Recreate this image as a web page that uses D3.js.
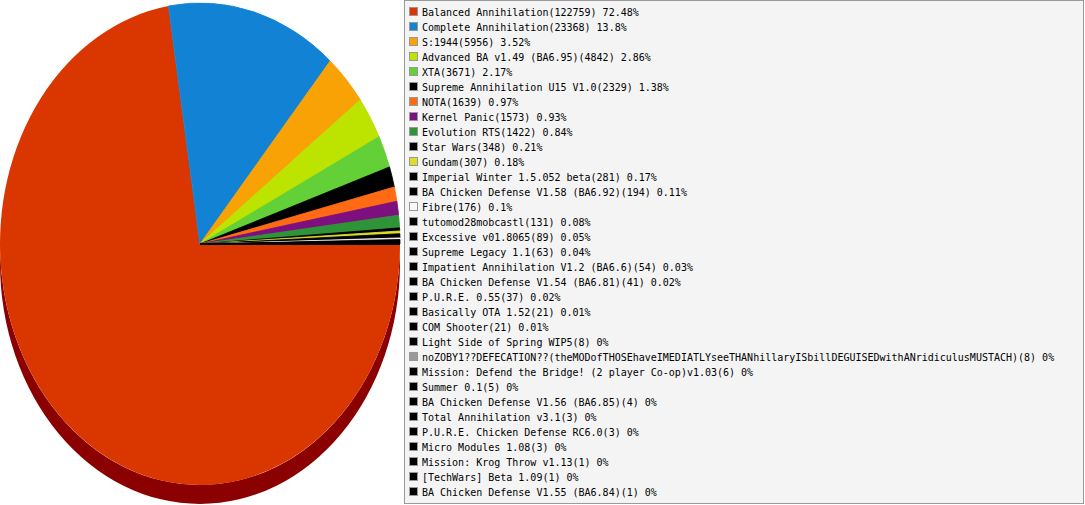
<!DOCTYPE html>
<html lang="en">

<head>
    <meta charset="UTF-8">
    <title>Mods</title>
    <style>
        body {
            margin: 0;
            background: #fff;
        }

        .legend text {
            font-family: "DejaVu Sans Mono", monospace;
            font-size: 10px;
            fill: #000;
        }
    </style>
</head>

<body>
    <script src="https://d3js.org/d3.v7.min.js"></script>
    <script>

        let names = [
            "Balanced Annihilation", "Complete Annihilation", "S:1944", "Advanced BA v1.49 (BA6.95)",
            "XTA", "Supreme Annihilation U15 V1.0", "NOTA", "Kernel Panic", "Evolution RTS", "Star Wars",
            "Gundam", "Imperial Winter 1.5.052 beta", "BA Chicken Defense V1.58 (BA6.92)", "Fibre",
            "tutomod28mobcastl", "Excessive v01.8065", "Supreme Legacy 1.1", "Impatient Annihilation V1.2 (BA6.6)",
            "BA Chicken Defense V1.54 (BA6.81)", "P.U.R.E. 0.55", "Basically OTA 1.52", "COM Shooter",
            "Light Side of Spring WIP5",
            "noZOBY1??DEFECATION??(theMODofTHOSEhaveIMEDIATLYseeTHANhillaryISbillDEGUISEDwithANridiculusMUSTACH)",
            "Mission: Defend the Bridge! (2 player Co-op)v1.03", "Summer 0.1", "BA Chicken Defense V1.56 (BA6.85)",
            "Total Annihilation v3.1", "P.U.R.E. Chicken Defense RC6.0", "Micro Modules 1.08",
            "Mission: Krog Throw v1.13", "[TechWars] Beta 1.09", "BA Chicken Defense V1.55 (BA6.84)"
        ];
        let counts = [
            122759, 23368, 5956, 4842, 3671, 2329, 1639, 1573, 1422, 348,
            307, 281, 194, 176, 131, 89, 63, 54, 41, 37, 21, 21,
            8, 8, 6, 5, 4, 3, 3, 3, 1, 1, 1
        ];
        let pcts = [
            "72.48%", "13.8%", "3.52%", "2.86%", "2.17%", "1.38%", "0.97%", "0.93%", "0.84%", "0.21%",
            "0.18%", "0.17%", "0.11%", "0.1%", "0.08%", "0.05%", "0.04%", "0.03%", "0.02%", "0.02%",
            "0.01%", "0.01%", "0%", "0%", "0%", "0%", "0%", "0%", "0%", "0%", "0%", "0%", "0%"
        ];
        let colors = [
            "#da3600", "#1283d4", "#f8a205", "#bde300", "#62d036", "#000000", "#ff6a12", "#7d0f7f",
            "#2f9337", "#000000", "#dcdc2a", "#000000", "#000000", "#f8f8f8", "#000000", "#000000",
            "#000000", "#000000", "#000000", "#000000", "#000000", "#000000", "#000000", "#999999",
            "#000000", "#000000", "#000000", "#000000", "#000000", "#000000", "#000000", "#000000", "#000000"
        ];

        let W = 1085, H = 505;
        let pieC = { x: 200, y: 244, rx: 200, ry: 241, depth: 19 };

        let s = d3.select('body').append('svg')
            .attr('width', W)
            .attr('height', H);

        // 1. pie, angles start at 3 o'clock and run clockwise
        let slices = d3.pie().sort(null)
            .startAngle(Math.PI / 2)
            .endAngle(Math.PI * 2.5)(counts);

        let darkOf = c => c === "#da3600" ? "#8b0000" : d3.rgb(c).darker(1.3).formatHex();

        // side walls: only the front half (screen angle 0..PI) is seen
        let pt = (t, dy) => [pieC.x + pieC.rx * Math.cos(t), pieC.y + pieC.ry * Math.sin(t) + dy];
        let walls = s.append('g').attr('class', 'walls');
        slices.forEach((d, i) => {
            let a = Math.max(d.startAngle - Math.PI / 2, 0);
            let b = Math.min(d.endAngle - Math.PI / 2, Math.PI);
            if (b <= a) return;
            let p0 = pt(a, 0), p1 = pt(b, 0), q1 = pt(b, pieC.depth), q0 = pt(a, pieC.depth);
            let path = `M${p0}A${pieC.rx},${pieC.ry} 0 0 1 ${p1}L${q1}A${pieC.rx},${pieC.ry} 0 0 0 ${q0}Z`;
            walls.append('path')
                .attr('d', path)
                .attr('fill', darkOf(colors[i]));
        });

        let arc = d3.arc().innerRadius(0).outerRadius(pieC.rx);
        s.append('g')
            .attr('transform', `translate(${pieC.x},${pieC.y}) scale(1,${pieC.ry / pieC.rx})`)
            .selectAll('path')
            .data(slices)
            .enter().append('path')
            .attr('d', arc)
            .attr('fill', (d, i) => colors[i])
            .attr('stroke', (d, i) => i === 0 ? 'none' : colors[i])
            .attr('stroke-width', 0.8)
            .attr('stroke-linejoin', 'round');

        // 2. legend
        let lg = s.append('g').attr('class', 'legend');
        lg.append('rect')
            .attr('x', 404.5).attr('y', 0.5)
            .attr('width', 679).attr('height', 503)
            .attr('fill', '#f4f4f4')
            .attr('stroke', '#9a9a9a');

        let y = d3.scaleBand()
            .domain(d3.range(names.length))
            .range([4, 4 + 15 * names.length]);

        let row = lg.selectAll('.row')
            .data(names)
            .enter().append('g')
            .attr('class', 'row')
            .attr('transform', (d, i) => `translate(0,${y(i)})`);

        row.append('rect')
            .attr('x', 409.5).attr('y', 3.5)
            .attr('width', 8).attr('height', 8)
            .attr('fill', (d, i) => colors[i])
            .attr('stroke', '#999');

        row.append('text')
            .attr('x', 422)
            .attr('y', 11.5)
            .text((d, i) => `${d}(${counts[i]}) ${pcts[i]}`);
    </script>
</body>

</html>
